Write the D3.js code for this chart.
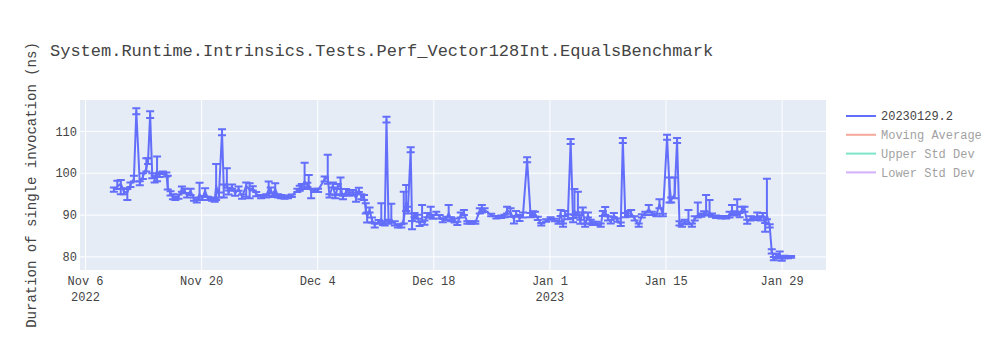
<!DOCTYPE html>
<html>
<head>
<meta charset="utf-8">
<script src="https://cdn.jsdelivr.net/npm/d3@7"></script>
<style>
  body { margin: 0; background: #fff; }
  text { font-family: "Liberation Mono", "Courier New", monospace; }
</style>
</head>
<body>
<svg id="chart" width="1000" height="350"></svg>
<script>
// Benchmark run timestamps (local time, hour resolution)
const runTimes = [
  "2022-11-09T10","2022-11-09T20","2022-11-10T06","2022-11-10T15","2022-11-11T01","2022-11-11T10","2022-11-11T20","2022-11-12T03","2022-11-12T13","2022-11-12T22",
  "2022-11-13T08","2022-11-13T13","2022-11-13T19","2022-11-14T01","2022-11-14T08","2022-11-14T15","2022-11-14T22","2022-11-15T08","2022-11-15T18","2022-11-15T22",
  "2022-11-16T06","2022-11-16T13","2022-11-16T20","2022-11-17T05","2022-11-17T15","2022-11-17T23","2022-11-18T06","2022-11-18T16","2022-11-19T02","2022-11-19T10",
  "2022-11-19T18","2022-11-20T02","2022-11-20T10","2022-11-20T18","2022-11-21T06","2022-11-21T14","2022-11-21T18","2022-11-22T02","2022-11-22T11","2022-11-22T16",
  "2022-11-23T01","2022-11-23T06","2022-11-23T16","2022-11-24T01","2022-11-24T11","2022-11-24T21","2022-11-25T09","2022-11-25T19","2022-11-26T04","2022-11-26T14",
  "2022-11-27T04","2022-11-27T19","2022-11-28T02","2022-11-28T08","2022-11-28T14","2022-11-28T21","2022-11-29T05","2022-11-29T14","2022-11-30T00","2022-11-30T10",
  "2022-11-30T21","2022-12-01T13","2022-12-01T20","2022-12-02T02","2022-12-02T10","2022-12-02T18","2022-12-02T22","2022-12-03T05","2022-12-03T15","2022-12-04T01",
  "2022-12-04T20","2022-12-05T05","2022-12-05T10","2022-12-05T20","2022-12-06T03","2022-12-06T10","2022-12-06T18","2022-12-07T01","2022-12-07T10","2022-12-07T20",
  "2022-12-08T06","2022-12-08T15","2022-12-08T23","2022-12-09T06","2022-12-09T14","2022-12-09T19","2022-12-09T23","2022-12-10T06","2022-12-10T13","2022-12-10T21",
  "2022-12-11T08","2022-12-11T16","2022-12-11T21","2022-12-12T02","2022-12-12T07","2022-12-12T13","2022-12-12T21","2022-12-13T07","2022-12-13T16","2022-12-14T02",
  "2022-12-14T09","2022-12-14T16","2022-12-14T21","2022-12-15T05","2022-12-15T09","2022-12-15T16","2022-12-16T00","2022-12-16T07","2022-12-16T14","2022-12-16T21",
  "2022-12-17T05","2022-12-17T15","2022-12-17T21","2022-12-18T07","2022-12-18T17","2022-12-19T02","2022-12-19T12","2022-12-19T19","2022-12-20T02","2022-12-20T12",
  "2022-12-20T20","2022-12-21T06","2022-12-21T15","2022-12-22T01","2022-12-22T12","2022-12-23T00","2022-12-23T13","2022-12-23T19","2022-12-24T03","2022-12-24T22",
  "2022-12-25T13","2022-12-26T03","2022-12-26T13","2022-12-26T20","2022-12-27T06","2022-12-27T16","2022-12-27T22","2022-12-28T08","2022-12-28T18","2022-12-29T06",
  "2022-12-29T16","2022-12-29T23","2022-12-30T05","2022-12-30T13","2022-12-30T23","2022-12-31T13","2023-01-01T02","2023-01-01T14","2023-01-02T01","2023-01-02T07",
  "2023-01-02T14","2023-01-02T20","2023-01-03T04","2023-01-03T12","2023-01-03T19","2023-01-03T23","2023-01-04T04","2023-01-04T09","2023-01-04T16","2023-01-04T23",
  "2023-01-05T06","2023-01-05T14","2023-01-05T22","2023-01-06T04","2023-01-06T14","2023-01-07T03","2023-01-07T09","2023-01-07T16","2023-01-08T00","2023-01-08T08",
  "2023-01-08T17","2023-01-09T03","2023-01-09T13","2023-01-09T19","2023-01-10T02","2023-01-10T10","2023-01-10T19","2023-01-11T05","2023-01-11T17","2023-01-12T02",
  "2023-01-12T12","2023-01-12T22","2023-01-13T07","2023-01-13T20","2023-01-14T05","2023-01-14T15","2023-01-15T03","2023-01-15T10","2023-01-15T15","2023-01-16T01",
  "2023-01-16T08","2023-01-16T15","2023-01-16T22","2023-01-17T06","2023-01-17T17","2023-01-18T03","2023-01-18T11","2023-01-18T20","2023-01-19T06","2023-01-19T14",
  "2023-01-19T20","2023-01-20T06","2023-01-20T13","2023-01-21T01","2023-01-21T16","2023-01-22T06","2023-01-22T16","2023-01-22T23","2023-01-23T06","2023-01-23T14",
  "2023-01-23T21","2023-01-24T04","2023-01-24T11","2023-01-24T19","2023-01-25T05","2023-01-25T14","2023-01-26T00","2023-01-26T10","2023-01-26T16","2023-01-26T23",
  "2023-01-27T04","2023-01-27T12","2023-01-27T18","2023-01-28T00","2023-01-28T07","2023-01-28T17","2023-01-28T23","2023-01-29T07","2023-01-29T17","2023-01-30T02"
];

// Mean duration of a single invocation (ns) for each run
const durations = [
  96.0,96.8,97.5,95.6,95.4,97.2,98.6,114.8,97.6,99.2,
  101.2,103.2,114.0,99.6,98.8,100.5,99.6,100.1,99.8,96.6,
  95.2,94.4,94.0,94.4,96.2,95.8,94.6,95.8,93.8,93.4,
  95.0,94.0,95.8,94.0,93.8,93.6,97.0,94.8,109.8,96.8,
  97.5,95.4,96.8,95.2,96.2,94.4,97.0,96.0,96.4,95.0,
  94.4,94.6,96.0,96.0,94.8,96.2,94.6,94.4,94.3,94.3,
  94.6,95.9,96.4,96.8,98.0,97.2,97.2,95.6,95.9,95.9,
  98.6,99.0,94.6,97.2,94.4,96.8,97.0,94.2,95.6,95.2,
  95.4,94.0,96.0,94.4,94.2,91.6,89.6,91.2,88.8,87.6,
  88.4,89.0,88.0,88.0,112.8,88.4,88.8,88.0,87.4,87.4,
  89.0,93.0,91.2,105.6,88.0,90.0,89.6,87.9,89.0,88.2,
  90.0,90.2,89.6,90.4,89.6,88.7,89.2,90.4,89.0,88.7,
  88.0,90.0,90.6,88.2,88.2,88.2,91.0,91.4,91.2,90.0,
  89.5,89.6,89.8,91.2,90.6,89.0,90.4,89.2,90.0,103.2,
  90.0,90.4,90.2,89.2,87.8,88.7,89.2,88.8,88.2,90.4,
  87.6,90.4,89.6,107.6,88.8,91.0,90.0,91.0,88.4,91.2,
  87.6,90.0,88.4,88.0,88.0,87.6,90.4,90.8,89.2,88.4,
  90.0,88.8,87.8,107.8,90.0,90.4,90.4,89.2,87.6,89.8,
  90.4,91.4,90.4,90.0,92.6,90.0,108.6,97.0,93.6,95.0,
  107.8,88.0,87.6,88.4,88.4,87.6,89.2,90.0,90.0,90.4,
  91.0,90.6,90.0,89.6,89.5,89.5,90.0,90.6,90.4,91.0,
  90.0,91.4,91.4,88.4,89.2,89.2,89.6,89.2,90.0,87.6,
  90.0,87.4,81.3,79.6,80.2,80.6,79.4,80.0,79.9,80.0
];

// Error bar extents above / below each mean (ns)
const errorPlus = [
  0.6,1.4,0.9,0.8,0.8,0.6,0.8,0.7,0.5,0.8,
  2.4,0.4,0.8,0.4,0.6,3.5,0.5,0.3,0.4,2.8,
  0.5,0.6,0.4,0.5,0.6,0.5,0.6,0.5,0.4,0.4,
  2.7,0.5,0.6,0.4,0.4,0.4,5.2,0.6,0.7,0.5,
  3.7,0.5,0.5,0.6,0.6,0.5,0.8,1.6,0.5,0.5,
  0.4,0.4,2.0,0.6,0.5,1.4,0.4,0.4,0.4,0.3,
  0.3,0.4,0.6,0.6,4.5,0.5,2.4,0.6,0.4,0.4,
  0.6,5.4,0.4,0.6,0.4,0.6,2.0,0.4,0.6,0.6,
  0.6,1.4,0.5,0.6,0.6,1.2,1.0,0.6,0.6,0.4,
  0.4,3.8,0.4,0.5,0.7,0.5,3.9,0.5,0.4,0.4,
  6.6,4.2,0.8,0.6,0.6,0.5,0.5,0.5,3.4,0.5,
  0.5,1.8,0.5,0.4,0.4,0.4,0.4,2.0,0.5,0.5,
  0.4,0.6,0.6,0.3,0.3,0.3,0.6,1.0,0.4,0.3,
  0.3,0.3,0.3,0.8,1.0,0.6,0.6,0.8,0.6,0.6,
  0.5,0.5,0.6,0.4,0.3,0.3,0.3,0.3,0.3,0.8,
  0.4,0.6,0.6,0.6,0.5,5.2,0.6,4.6,0.5,0.6,
  0.4,0.6,0.5,0.4,0.4,0.4,0.6,1.1,0.5,0.4,
  0.5,0.4,0.4,0.6,0.5,0.6,0.8,0.5,0.4,0.4,
  0.4,1.0,0.4,0.3,1.2,0.3,0.6,2.0,0.6,4.0,
  0.6,0.5,0.4,0.5,2.8,0.4,0.5,3.0,0.4,0.5,
  3.8,3.0,0.4,0.3,0.3,0.3,0.8,1.8,0.5,2.8,
  0.5,0.6,0.6,0.5,0.5,0.4,1.0,0.5,0.5,0.5,
  8.7,0.4,0.5,0.4,0.5,0.7,0.3,0.3,0.2,0.2
];
const errorMinus = [
  0.4,0.6,2.5,0.6,1.8,0.5,0.6,0.7,0.5,0.6,
  0.8,1.0,0.8,0.8,1.0,2.4,0.5,0.3,0.6,0.5,
  0.5,0.6,0.4,0.5,0.6,0.5,0.4,1.0,0.4,0.4,
  1.4,0.4,1.4,0.4,0.4,0.4,3.4,0.6,0.7,2.6,
  1.0,0.5,0.5,0.6,0.4,0.5,2.6,2.0,0.5,0.5,
  0.4,0.4,1.4,0.6,0.5,1.6,0.4,0.4,0.4,0.3,
  0.3,0.4,0.6,0.6,1.6,0.5,1.0,1.6,0.4,0.4,
  0.6,1.5,0.4,0.6,0.4,0.6,2.0,0.4,0.6,0.6,
  0.6,0.8,0.5,0.6,0.6,1.2,1.4,0.6,0.6,0.6,
  0.4,0.6,0.4,0.5,0.7,0.5,0.6,0.5,0.4,0.4,
  1.0,2.0,0.8,0.6,1.4,0.5,0.5,0.5,0.6,0.5,
  0.5,0.8,0.5,0.4,0.4,0.4,0.4,1.0,0.5,0.5,
  0.4,0.6,0.6,0.3,0.3,0.3,0.6,0.8,0.4,0.3,
  0.3,0.3,0.3,0.8,1.0,1.0,0.6,0.6,0.6,0.6,
  0.5,0.5,0.6,0.4,0.3,0.3,0.3,0.3,0.3,0.6,
  0.4,0.6,0.6,0.6,0.5,1.0,0.6,1.0,0.5,0.6,
  0.4,0.6,0.5,0.4,0.4,0.4,0.6,0.8,0.5,0.4,
  0.5,0.4,0.4,0.6,0.5,0.6,0.8,0.5,0.4,0.4,
  0.4,0.8,0.4,0.3,1.0,0.3,0.6,4.0,0.6,1.0,
  0.6,0.5,0.4,0.5,0.6,0.4,0.5,0.6,0.4,0.5,
  0.8,0.6,0.4,0.3,0.3,0.3,0.6,0.6,0.5,0.8,
  0.5,0.6,0.6,0.5,0.5,0.4,0.6,0.5,0.5,1.6,
  1.0,0.4,0.5,0.4,0.5,0.6,0.3,0.3,0.2,0.2
];

// Axis ticks and their labels
const xTickDates = ["2022-11-06","2022-11-20","2022-12-04","2022-12-18","2023-01-01","2023-01-15","2023-01-29"];
const xTickLabels = [["Nov 6","2022"],["Nov 20"],["Dec 4"],["Dec 18"],["Jan 1","2023"],["Jan 15"],["Jan 29"]];
const yTicks = [80, 90, 100, 110];

// Legend entries; only the run series is shown, the others are toggled off
const seriesNames = ["20230129.2", "Moving Average", "Upper Std Dev", "Lower Std Dev"];
const seriesColors = ["#636efa", "#EF553B", "#00cc96", "#ab63fa"];
const seriesVisible = [true, false, false, false];

const chartTitle = "System.Runtime.Intrinsics.Tests.Perf_Vector128Int.EqualsBenchmark";
const yTitle = "Duration of single invocation (ns)";

// ---- layout ----
const W = 1000, H = 350;
const M = { left: 80, right: 174, top: 100, bottom: 80 };
const plotW = W - M.left - M.right;
const plotH = H - M.top - M.bottom;

const parseRun = d3.timeParse("%Y-%m-%dT%H");
const parseDay = d3.timeParse("%Y-%m-%d");

const points = runTimes.map((t, i) => ({
  t: parseRun(t), v: durations[i], up: errorPlus[i], dn: errorMinus[i]
}));

const x = d3.scaleTime()
  .domain([new Date(2022, 10, 5, 8), new Date(2023, 1, 3, 7)])
  .range([M.left, M.left + plotW]);
const y = d3.scaleLinear()
  .domain([76.87, 117.5])
  .range([M.top + plotH, M.top]);

const svg = d3.select("#chart");

// plot background
svg.append("rect")
  .attr("x", M.left).attr("y", M.top)
  .attr("width", plotW).attr("height", plotH)
  .attr("fill", "#e5ecf6");

// gridlines
const grid = svg.append("g");
grid.selectAll("line.gx").data(xTickDates.map(parseDay)).join("line")
  .attr("x1", d => x(d)).attr("x2", d => x(d))
  .attr("y1", M.top).attr("y2", M.top + plotH)
  .attr("stroke", "#fff").attr("stroke-width", 1);
grid.selectAll("line.gy").data(yTicks).join("line")
  .attr("x1", M.left).attr("x2", M.left + plotW)
  .attr("y1", d => y(d)).attr("y2", d => y(d))
  .attr("stroke", "#fff").attr("stroke-width", 1);

// clip to the plot area
svg.append("clipPath").attr("id", "plotclip")
  .append("rect").attr("x", M.left).attr("y", M.top).attr("width", plotW).attr("height", plotH);

const traceColor = seriesColors[0];
const trace = svg.append("g").attr("clip-path", "url(#plotclip)");

// error bars with end caps
const capHalf = 4;
trace.append("g").selectAll("path").data(points).join("path")
  .attr("d", d => {
    const cx = x(d.t), y0 = y(d.v - d.dn), y1 = y(d.v + d.up);
    return `M${cx},${y0}V${y1}M${cx - capHalf},${y1}H${cx + capHalf}M${cx - capHalf},${y0}H${cx + capHalf}`;
  })
  .attr("fill", "none")
  .attr("stroke", traceColor)
  .attr("stroke-width", 2);

// run line
const line = d3.line().x(d => x(d.t)).y(d => y(d.v));
trace.append("path")
  .datum(points)
  .attr("d", line)
  .attr("fill", "none")
  .attr("stroke", traceColor)
  .attr("stroke-width", 2)
  .attr("stroke-linejoin", "round");

// x tick labels
const xLab = svg.append("g").attr("font-size", 12).attr("fill", "#444").attr("text-anchor", "middle");
xTickDates.forEach((ds, i) => {
  const t = xLab.append("text").attr("x", x(parseDay(ds))).attr("y", 285);
  xTickLabels[i].forEach((s, k) => {
    t.append("tspan").attr("x", x(parseDay(ds))).attr("dy", k === 0 ? 0 : 16).text(s);
  });
});

// y tick labels
svg.append("g").attr("font-size", 12).attr("fill", "#444").attr("text-anchor", "end")
  .selectAll("text").data(yTicks).join("text")
  .attr("x", M.left - 3).attr("y", d => y(d)).attr("dy", "0.35em")
  .text(d => d);

// axis title
svg.append("text")
  .attr("transform", `translate(36,${M.top + plotH / 2}) rotate(-90)`)
  .attr("text-anchor", "middle")
  .attr("font-size", 14).attr("fill", "#444")
  .text(yTitle);

// chart title
svg.append("text")
  .attr("x", 50).attr("y", 50).attr("dy", "0.35em")
  .attr("font-size", 17).attr("fill", "#444")
  .text(chartTitle);

// legend
const legend = svg.append("g").attr("transform", "translate(846,116)");
seriesNames.forEach((name, i) => {
  const g = legend.append("g")
    .attr("transform", `translate(0,${i * 18.8})`)
    .attr("opacity", seriesVisible[i] ? 1 : 0.5);
  g.append("line").attr("x1", 0).attr("x2", 30).attr("y1", 0).attr("y2", 0)
    .attr("stroke", seriesColors[i]).attr("stroke-width", 2);
  g.append("text").attr("x", 35).attr("y", 0).attr("dy", "0.35em")
    .attr("font-size", 12).attr("fill", "#444").text(name);
});
</script>
</body>
</html>
